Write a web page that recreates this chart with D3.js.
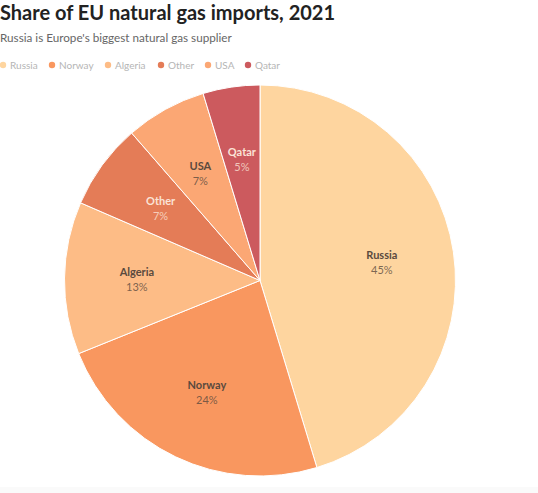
<!DOCTYPE html>
<html>
<head>
<meta charset="utf-8">
<script src="https://cdn.jsdelivr.net/npm/d3@7"></script>
<style>
  body { margin: 0; background: #fff; }
  svg { font-family: Lato, "Open Sans", sans-serif; }
</style>
</head>
<body>
<svg id="chart" width="538" height="493"></svg>
<script>
// data (slice angles), labels show rounded values
const suppliers = ['Russia', 'Norway', 'Algeria', 'Other', 'USA', 'Qatar'];
const shares = [45.3, 23.6, 12.6, 7.1, 6.7, 4.7];
const colors = ['#fed59f', '#f9975f', '#fdbc86', '#e47c57', '#fba774', '#cc5a5e'];
const labelColors = ['#5a4a3e', '#5a4a3e', '#5a4a3e', '#fbe3d6', '#5a4a3e', '#fbe3d6'];

const svg = d3.select('#chart');
const width = 538, height = 493;
const cx = 260, cy = 280.5, radius = 195.5;

// faint band at the bottom
svg.append('rect').attr('x', 0).attr('y', 487).attr('width', width).attr('height', 6).attr('fill', '#fafafa');

// titles
svg.append('text').attr('x', 0).attr('y', 20)
  .attr('font-size', 20).attr('font-weight', 700).attr('fill', '#222')
  .text('Share of EU natural gas imports, 2021');
svg.append('text').attr('x', 0).attr('y', 42)
  .attr('font-size', 11.7).attr('fill', '#666')
  .text("Russia is Europe's biggest natural gas supplier");

// legend
const legendX = [3, 52, 108, 161, 208, 248];
const legend = svg.append('g').selectAll('g')
  .data(suppliers)
  .enter().append('g')
  .attr('transform', (d, i) => `translate(${legendX[i]},68)`);
legend.append('circle').attr('cx', 0).attr('cy', -3).attr('r', 3.2)
  .attr('fill', (d, i) => colors[i]);
legend.append('text').attr('x', 7).attr('y', 1)
  .attr('font-size', 10).attr('fill', '#b5b5b5')
  .text(d => d);

// pie
const pie = d3.pie().sort(null).value((d, i) => shares[i]);
const arcs = pie(suppliers);
const arc = d3.arc().innerRadius(0).outerRadius(radius);
const labelArc = d3.arc().innerRadius(radius * 0.63).outerRadius(radius * 0.63);

const g = svg.append('g').attr('transform', `translate(${cx},${cy})`);
g.selectAll('path')
  .data(arcs)
  .enter().append('path')
  .attr('d', arc)
  .attr('fill', d => colors[d.index])
  .attr('stroke', '#fff')
  .attr('stroke-width', 1);

const labels = g.selectAll('g.lbl')
  .data(arcs)
  .enter().append('g')
  .attr('class', 'lbl')
  .attr('transform', d => `translate(${labelArc.centroid(d)})`);
labels.append('text')
  .attr('text-anchor', 'middle').attr('y', -3)
  .attr('font-size', 11).attr('font-weight', 700)
  .attr('fill', d => labelColors[d.index])
  .text(d => d.data);
labels.append('text')
  .attr('text-anchor', 'middle').attr('y', 12)
  .attr('font-size', 11)
  .attr('fill', d => labelColors[d.index])
  .attr('fill-opacity', 0.8)
  .text(d => Math.round(shares[d.index]) + '%');
</script>
</body>
</html>
